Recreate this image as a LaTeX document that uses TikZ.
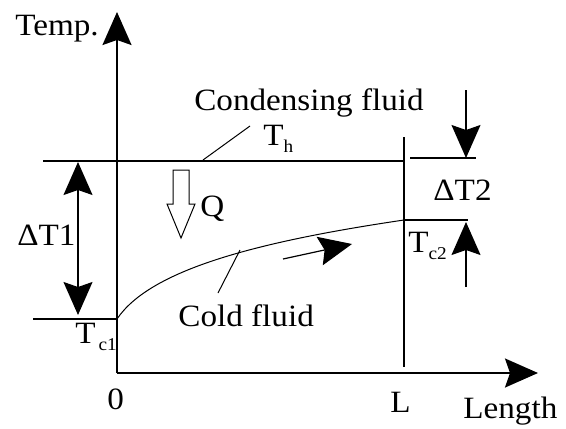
\documentclass[tikz,border=0pt]{standalone}
\usepackage{fontspec}
\setmainfont[FakeStretch=1.07]{Liberation Serif}
\usetikzlibrary{arrows.meta}
\tikzset{
  tipstyle/.style={-{Stealth[length=16.5pt,width=14.5pt,inset=2.5pt]}},
  axisline/.style={line width=1pt, tipstyle},
  boldline/.style={line width=1pt},
  thinline/.style={line width=0.5pt},
  dimarrow/.style={line width=0.7pt, tipstyle},
  lbl/.style={inner sep=0pt, anchor=base west, font=\fontsize{15.5}{18}\selectfont},
}
\newcommand{\subtxt}[1]{\raisebox{-3.5pt}{\fontsize{9}{10}\selectfont #1}}
\begin{document}
\begin{tikzpicture}[x=0.5pt,y=-0.5pt]
\useasboundingbox (0,0) rectangle (566,428);
% coordinates
\coordinate (o) at (117,373);
\coordinate (ytip) at (117,12);
\coordinate (xtip) at (538,373);
\coordinate (thA) at (43,161);
\coordinate (thB) at (404,161);
\coordinate (lTop) at (404,137);
\coordinate (lBot) at (404,367);
\coordinate (tc1A) at (33,319);
\coordinate (tc1B) at (117,319);
\coordinate (rTopA) at (410,158);
\coordinate (rTopB) at (476,158);
\coordinate (tc2A) at (404,220);
\coordinate (tc2B) at (468,220);
\coordinate (dt1Top) at (78,162);
\coordinate (dt1Bot) at (78,315);
\coordinate (dt1Mid) at (78,239);
\coordinate (dt2TopStart) at (466,90);
\coordinate (dt2TopTip) at (466,158);
\coordinate (dt2BotStart) at (466,287);
\coordinate (dt2BotTip) at (466,222);
\coordinate (thLeadA) at (203,160);
\coordinate (thLeadB) at (250,126);
\coordinate (coldLeadA) at (240,250);
\coordinate (coldLeadB) at (218,293);
\coordinate (flowA) at (283,259);
\coordinate (flowB) at (352,244);
% axes
\draw[axisline] (o) -- (ytip);
\draw[axisline] (o) -- (xtip);
% horizontal and vertical lines
\draw[boldline] (thA) -- (thB);
\draw[boldline] (lTop) -- (lBot);
\draw[boldline] (tc1A) -- (tc1B);
\draw[boldline] (rTopA) -- (rTopB);
\draw[boldline] (tc2A) -- (tc2B);
% dimension arrows
\draw[dimarrow] (dt1Mid) -- (dt1Top);
\draw[dimarrow] (dt1Mid) -- (dt1Bot);
\draw[dimarrow] (dt2TopStart) -- (dt2TopTip);
\draw[dimarrow] (dt2BotStart) -- (dt2BotTip);
% cold fluid curve
\draw[thinline] (tc1B) .. controls (150,270) and (255,242) .. (tc2A);
% leaders
\draw[thinline] (thLeadA) -- (thLeadB);
\draw[thinline] (coldLeadA) -- (coldLeadB);
% flow arrow
\draw[dimarrow, line width=0.6pt] (flowA) -- (flowB);
% Q hollow arrow
\draw[thinline, line join=miter] (173,170) -- (189,170) -- (189,204) -- (195,204) -- (181,238) -- (167,204) -- (173,204) -- cycle;
% labels
\node[lbl] (temp) at (15,35) {Temp.};
\node[lbl, anchor=base] (cond) at (309,110) {Condensing fluid};
\node[lbl] (th) at (263,145) {T\subtxt{h}};
\node[lbl] (q) at (200,216) {Q};
\node[lbl] (dt1) at (17,245) {ΔT1};
\node[lbl] (dt2) at (433,200) {ΔT2};
\node[lbl] (tc1) at (75,343) {T\hspace{1.5pt}\subtxt{c1}};
\node[lbl] (tc2) at (408,252) {T\subtxt{c2}};
\node[lbl] (cold) at (178,326) {Cold fluid};
\node[lbl] (zero) at (107,409) {0};
\node[lbl] (ell) at (390,412) {L};
\node[lbl] (len) at (463,418) {Length};
\end{tikzpicture}
\end{document}
